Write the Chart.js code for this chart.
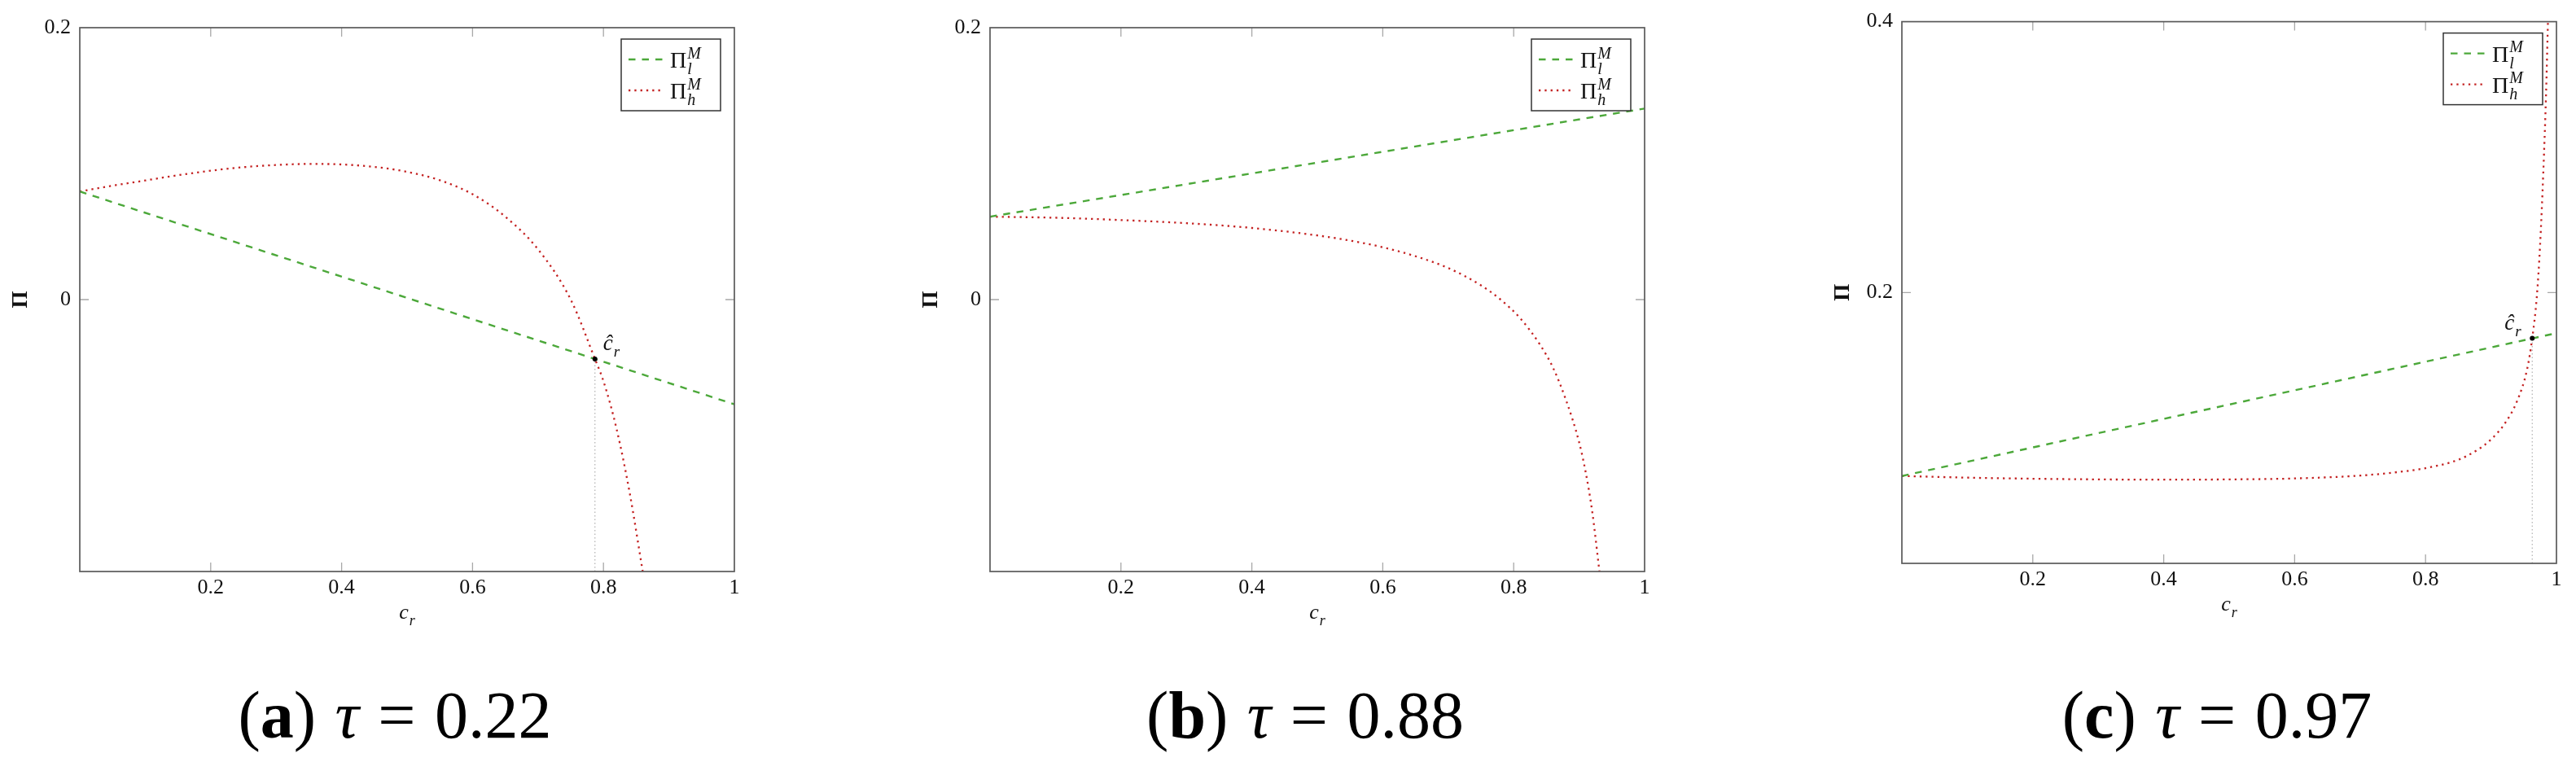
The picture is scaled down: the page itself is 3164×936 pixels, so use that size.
<!DOCTYPE html>
<html>
<head>
<meta charset="utf-8">
<script src="https://cdn.jsdelivr.net/npm/chart.js@4.4.1/dist/chart.umd.min.js"></script>
<style>
  body { margin: 0; background: #fff; }
  #fig { position: relative; width: 3164px; height: 936px; overflow: hidden; background: #fff; }
  canvas { position: absolute; top: 0; }
  .cap { position: absolute; top: 838px; width: 600px; text-align: center; font: 82px/1 "Liberation Serif", serif; color: #000; white-space: nowrap; word-spacing: 3px; }
</style>
</head>
<body>
<div id="fig">
  <canvas id="chartA" width="930" height="790"></canvas>
  <canvas id="chartB" width="930" height="790"></canvas>
  <canvas id="chartC" width="930" height="790"></canvas>
  <div class="cap" id="capA"></div>
  <div class="cap" id="capB"></div>
  <div class="cap" id="capC"></div>
</div>
<script>
// panel captions
const panelLetters = ['a', 'b', 'c'];
const tauValues = ['0.22', '0.88', '0.97'];

// axis ticks
const xTicks = [0.2, 0.4, 0.6, 0.8, 1];
const yTicksA = [0, 0.2];
const yTicksB = [0, 0.2];
const yTicksC = [0.2, 0.4];
const yRangeA = [-0.2, 0.2];
const yRangeB = [-0.2, 0.2];
const yRangeC = [0, 0.4];

// Pi_l^M (green, dashed) - straight lines
const crGreen = [0, 1];
const piGreenA = [0.0795, -0.077];
const piGreenB = [0.061, 0.1405];
const piGreenC = [0.0645, 0.170];

// Pi_h^M (red, dotted)
const crRedA = [0, 0.05, 0.1, 0.15, 0.2, 0.25, 0.3, 0.35, 0.4, 0.45, 0.5, 0.55, 0.6, 0.65, 0.7, 0.75, 0.787, 0.8, 0.82, 0.84, 0.86];
const piRedA = [0.0795, 0.0838, 0.0876, 0.0915, 0.0948, 0.0974, 0.0990, 0.0998, 0.0994, 0.0976, 0.0940, 0.0878, 0.0775, 0.0610, 0.0370, 0.0000, -0.0437, -0.0600, -0.0950, -0.1420, -0.2000];

const crRedB = [0, 0.1, 0.2, 0.3, 0.4, 0.5, 0.55, 0.6, 0.65, 0.7, 0.75, 0.78, 0.81, 0.84, 0.86, 0.88, 0.9, 0.91, 0.92, 0.931];
const piRedB = [0.0610, 0.0602, 0.0585, 0.0562, 0.0527, 0.0472, 0.0434, 0.0385, 0.0319, 0.0232, 0.0105, 0.0000, -0.0138, -0.0330, -0.0500, -0.0740, -0.1050, -0.1270, -0.1560, -0.2000];

const crRedC = [0, 0.1, 0.2, 0.3, 0.4, 0.5, 0.6, 0.7, 0.75, 0.8, 0.85, 0.88, 0.9, 0.92, 0.94, 0.955, 0.963, 0.97, 0.975, 0.98, 0.984, 0.987];
const piRedC = [0.0645, 0.0633, 0.0625, 0.0620, 0.0618, 0.0620, 0.0627, 0.0648, 0.0670, 0.0703, 0.0765, 0.0840, 0.0915, 0.1025, 0.1200, 0.1430, 0.1662, 0.1970, 0.2350, 0.2900, 0.3450, 0.4000];

// threshold c_r hat (no crossing shown in panel b)
const crHat = [0.787, null, 0.963];
const piHat = [-0.0437, null, 0.1662];

const GREEN = 'rgb(76,168,58)';
const RED = 'rgb(196,34,34)';
const SERIF = '"Liberation Serif", "DejaVu Serif", serif';

function pts(xs, ys) {
    return xs.map((x, i) => ({ x: x, y: ys[i] }));
}

// draws base text with stacked super/subscript, returns end x
function drawScript(ctx, base, sup, sub, x, y, size, italicBase) {
    ctx.font = (italicBase ? 'italic ' : '') + size + 'px ' + SERIF;
    ctx.fillText(base, x, y);
    let w = ctx.measureText(base).width;
    const small = Math.round(size * 0.7);
    ctx.font = 'italic ' + small + 'px ' + SERIF;
    let w2 = 0;
    if (sup) { ctx.fillText(sup, x + w + 1, y - size * 0.4); w2 = ctx.measureText(sup).width; }
    if (sub) { ctx.fillText(sub, x + w + 1, y + size * 0.3); w2 = Math.max(w2, ctx.measureText(sub).width); }
    return x + w + 1 + w2;
}

const decor = {
    id: 'decor',
    afterDraw(chart, args, opts) {
        const ctx = chart.ctx;
        const a = chart.chartArea;
        const xs = chart.scales.x, ys = chart.scales.y;
        const p = opts.panel;
        ctx.save();

        // inner tick marks on all four sides
        ctx.strokeStyle = '#a8a8a8';
        ctx.lineWidth = 1.3;
        ctx.beginPath();
        xTicks.forEach(v => {
            const px = xs.getPixelForValue(v);
            if (px > a.left + 1 && px < a.right - 1) {
                ctx.moveTo(px, a.bottom); ctx.lineTo(px, a.bottom - 11);
                ctx.moveTo(px, a.top); ctx.lineTo(px, a.top + 11);
            }
        });
        opts.yTicks.forEach(v => {
            const py = ys.getPixelForValue(v);
            if (py > a.top + 1 && py < a.bottom - 1) {
                ctx.moveTo(a.left, py); ctx.lineTo(a.left + 11, py);
                ctx.moveTo(a.right, py); ctx.lineTo(a.right - 11, py);
            }
        });
        ctx.stroke();

        // axis frame
        ctx.strokeStyle = '#5a5a5a';
        ctx.lineWidth = 1.7;
        ctx.strokeRect(a.left, a.top, a.right - a.left, a.bottom - a.top);

        ctx.fillStyle = '#111';
        ctx.textBaseline = 'alphabetic';
        ctx.textAlign = 'left';

        // x axis title c_r
        ctx.font = 'italic 26px ' + SERIF;
        const cw = ctx.measureText('c').width;
        const cx = (a.left + a.right) / 2 - (cw + 8) / 2;
        drawScript(ctx, 'c', null, 'r', cx, a.bottom + 58, 26, true);

        // y axis title
        ctx.save();
        ctx.translate(a.left - 72, (a.top + a.bottom) / 2);
        ctx.rotate(-Math.PI / 2);
        ctx.textAlign = 'center';
        ctx.textBaseline = 'middle';
        ctx.font = 'bold 27px ' + SERIF;
        ctx.fillText('Π', 0, 0);
        ctx.restore();

        // c_r hat label
        if (crHat[p] !== null) {
            const hx = xs.getPixelForValue(crHat[p]);
            const hy = ys.getPixelForValue(piHat[p]);
            ctx.font = 'italic 27px ' + SERIF;
            const lw = ctx.measureText('ĉ').width + 10;
            const lx = opts.hatSide > 0 ? hx + 10 : hx - 12 - lw;
            drawScript(ctx, 'ĉ', null, 'r', lx, hy - 11, 27, true);
        }

        // legend box
        const bx = a.left + 665, by = a.top + 14;
        ctx.fillStyle = '#fff';
        ctx.fillRect(bx, by, 122, 88);
        ctx.strokeStyle = '#333';
        ctx.lineWidth = 1.5;
        ctx.strokeRect(bx, by, 122, 88);
        const entries = [{ ds: 0, sub: 'l', dy: 25 }, { ds: 1, sub: 'h', dy: 63 }];
        entries.forEach(e => {
            const d = chart.data.datasets[e.ds];
            ctx.save();
            ctx.strokeStyle = d.borderColor;
            ctx.lineWidth = d.borderWidth;
            ctx.setLineDash(d.borderDash);
            ctx.beginPath();
            ctx.moveTo(bx + 9, by + e.dy);
            ctx.lineTo(bx + 51, by + e.dy);
            ctx.stroke();
            ctx.restore();
            ctx.fillStyle = '#111';
            drawScript(ctx, 'Π', 'M', e.sub, bx + 60, by + e.dy + 10, 28, false);
        });
        ctx.restore();
    }
};

function makeChart(id, p, crRed, piRed, piGreen, yRange, yTicks, top, hatSide) {
    const datasets = [
        {
            label: 'Π_l^M',
            data: pts(crGreen, piGreen),
            borderColor: GREEN,
            borderWidth: 2.4,
            borderDash: [8.5, 8],
            pointRadius: 0,
            order: 1
        },
        {
            label: 'Π_h^M',
            data: pts(crRed, piRed),
            borderColor: RED,
            borderWidth: 2.3,
            borderDash: [2.3, 5],
            borderCapStyle: 'butt',
            cubicInterpolationMode: 'monotone',
            pointRadius: 0,
            order: 2
        }
    ];
    if (crHat[p] !== null) {
        datasets.push({
            label: 'hat line',
            data: [{ x: crHat[p], y: yRange[0] }, { x: crHat[p], y: piHat[p] }],
            borderColor: '#b0b0b0',
            borderWidth: 1.2,
            borderDash: [1.5, 3],
            pointRadius: 0,
            order: 3
        });
        datasets.push({
            label: 'hat point',
            data: [{ x: crHat[p], y: piHat[p] }],
            showLine: false,
            pointRadius: 3,
            pointBackgroundColor: '#000',
            pointBorderWidth: 0,
            order: 0
        });
    }

    const tickFont = { family: SERIF, size: 26 };
    return new Chart(document.getElementById(id), {
        type: 'line',
        data: { datasets },
        plugins: [decor],
        options: {
            responsive: false,
            animation: false,
            devicePixelRatio: 1,
            layout: { padding: { top: top, left: 0, right: 28, bottom: 790 - top - 668 - 60 } },
            plugins: {
                legend: { display: false },
                tooltip: { enabled: false },
                decor: { panel: p, yTicks: yTicks, hatSide: hatSide }
            },
            scales: {
                x: {
                    type: 'linear',
                    min: 0,
                    max: 1,
                    afterBuildTicks: s => { s.ticks = xTicks.map(v => ({ value: v })); },
                    afterFit: s => { s.height = 60; },
                    grid: { display: false, drawTicks: false },
                    border: { display: false },
                    ticks: { font: tickFont, color: '#111', padding: 5, maxRotation: 0, callback: v => String(v) }
                },
                y: {
                    type: 'linear',
                    min: yRange[0],
                    max: yRange[1],
                    afterBuildTicks: s => { s.ticks = yTicks.map(v => ({ value: v })); },
                    afterFit: s => { s.width = 98; },
                    grid: { display: false, drawTicks: false },
                    border: { display: false },
                    ticks: { font: tickFont, color: '#111', padding: 11, callback: v => String(v) }
                }
            }
        }
    });
}

const canvasLeft = [0, 1118, 2238];
const plotTop = [34, 34, 24];
['chartA', 'chartB', 'chartC'].forEach((id, i) => {
    document.getElementById(id).style.left = canvasLeft[i] + 'px';
});
['capA', 'capB', 'capC'].forEach((id, i) => {
    const el = document.getElementById(id);
    el.style.left = (canvasLeft[i] + 98 + 87) + 'px';
    el.innerHTML = `(<b>${panelLetters[i]}</b>) <i>τ</i> = ${tauValues[i]}`;
});

makeChart('chartA', 0, crRedA, piRedA, piGreenA, yRangeA, yTicksA, plotTop[0], 1);
makeChart('chartB', 1, crRedB, piRedB, piGreenB, yRangeB, yTicksB, plotTop[1], 1);
makeChart('chartC', 2, crRedC, piRedC, piGreenC, yRangeC, yTicksC, plotTop[2], -1);
</script>
</body>
</html>
